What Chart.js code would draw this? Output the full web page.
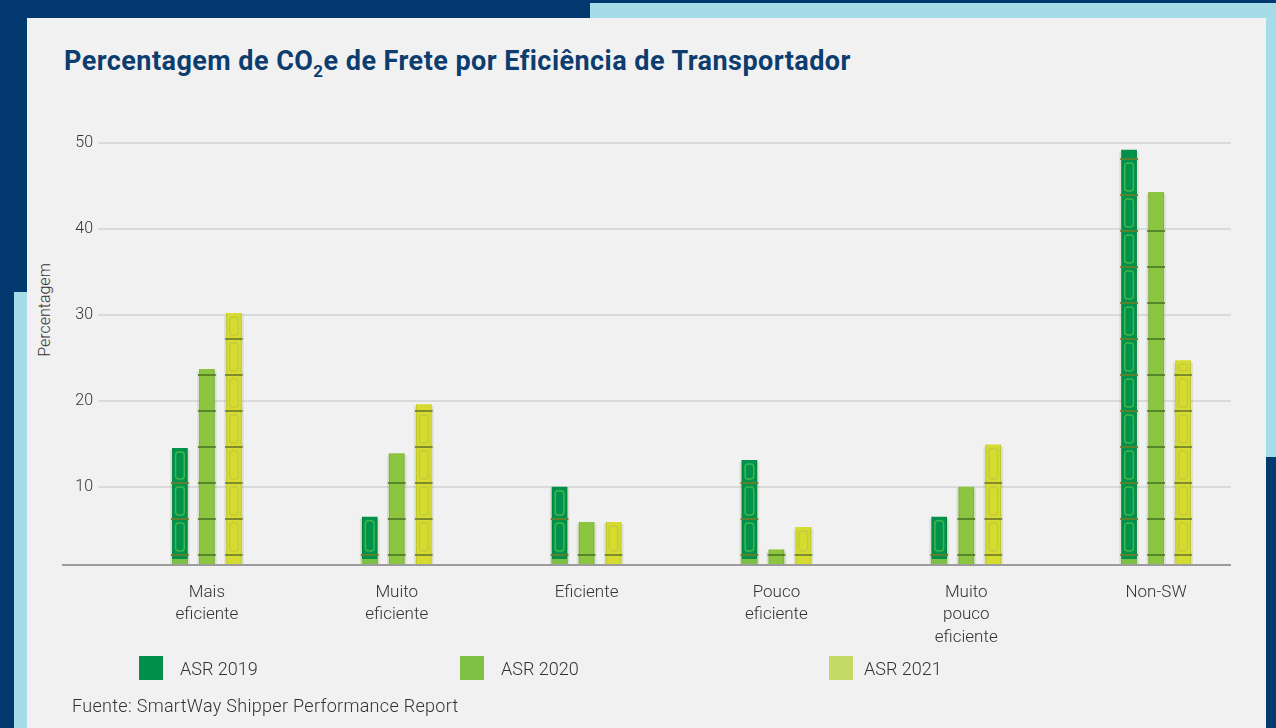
<!DOCTYPE html>
<html>
<head>
<meta charset="utf-8">
<script src="https://cdn.jsdelivr.net/npm/chart.js@4.4.1/dist/chart.umd.min.js"></script>
<style>
  html, body { margin: 0; padding: 0; }
  body {
    width: 1276px; height: 728px; position: relative; overflow: hidden;
    background: #023a6f; font-family: Roboto, "Noto Sans", sans-serif;
  }
  .strip-top { position: absolute; left: 590px; top: 3px; width: 686px; height: 15px; background: #a6dce8; }
  .strip-right { position: absolute; left: 1266px; top: 3px; width: 10px; height: 454px; background: #a6dce8; }
  .strip-left { position: absolute; left: 14px; top: 292px; width: 13px; height: 436px; background: #a6dce8; }
  .panel { position: absolute; left: 27px; top: 18px; width: 1239px; height: 710px; background: #f1f1f1; }
  h1 {
    position: absolute; left: 64px; top: 45px; margin: 0;
    font-size: 27px; font-weight: 700; color: #0c3d6e; letter-spacing: 0.45px; white-space: nowrap;
  }
  h1 sub { font-size: 17px; vertical-align: -7px; line-height: 0; }
  .ytitle {
    position: absolute; left: 44px; top: 310px; transform: translate(-50%, -50%) rotate(-90deg);
    font-size: 16px; font-weight: 300; color: #333; white-space: nowrap;
  }
  #wrap { position: absolute; left: 0; top: 0; width: 1276px; height: 728px; }
  .legend span.box { position: absolute; top: 656px; width: 24px; height: 24px; }
  .legend span.txt { position: absolute; top: 657px; font-size: 18px; font-weight: 300; color: #333; line-height: 24px; }
  .source { position: absolute; left: 72px; top: 695px; font-size: 18px; font-weight: 300; color: #333; letter-spacing: 0.3px; }
</style>
</head>
<body>
<div class="strip-top"></div>
<div class="strip-right"></div>
<div class="strip-left"></div>
<div class="panel"></div>
<h1>Percentagem de CO<sub>2</sub>e de Frete por Eficiência de Transportador</h1>
<div class="ytitle">Percentagem</div>
<div id="wrap"><canvas id="chart"></canvas></div>
<div class="legend" id="legend"></div>
<div class="source">Fuente: SmartWay Shipper Performance Report</div>
<script>
// categories (multi-line labels)
const categories = [
  ['Mais', 'eficiente'],
  ['Muito', 'eficiente'],
  ['Eficiente'],
  ['Pouco', 'eficiente'],
  ['Muito', 'pouco', 'eficiente'],
  ['Non-SW']
];

// series values (percent)
const asr2019 = [14.5, 6.5, 10.0, 13.1, 6.5, 49.2];
const asr2020 = [23.7, 13.9, 5.9, 2.7, 10.0, 44.3];
const asr2021 = [30.2, 19.6, 5.9, 5.3, 14.9, 24.7];

const seriesNames = ['ASR 2019', 'ASR 2020', 'ASR 2021'];
const yTicks = [10, 20, 30, 40, 50];

// bar look: fill, inner outline, node colour
const barStyles = [
  { fill: '#00924a', inner: '#3fb54f', node: '#5e7f2b' },
  { fill: '#8cc540', inner: '#7fb83a', node: '#5a842b' },
  { fill: '#d5dc2f', inner: '#c3cc3a', node: '#7f8c2e' }
];
const legendColors = ['#00904b', '#80c145', '#c5d965'];
const legendPos = [[139, 180], [460, 501], [829, 864]];

// legend in html
const legendEl = document.getElementById('legend');
seriesNames.forEach((name, i) => {
  legendEl.innerHTML += '<span class="box" style="left:' + legendPos[i][0] + 'px;background:' + legendColors[i] + '"></span>' +
    '<span class="txt" style="left:' + legendPos[i][1] + 'px">' + name + '</span>';
});

// grid + baseline
const gridPlugin = {
  id: 'grid',
  beforeDatasetsDraw(chart) {
    const ctx = chart.ctx, a = chart.chartArea, y = chart.scales.y;
    ctx.save();
    ctx.strokeStyle = '#dadada';
    ctx.lineWidth = 2;
    yTicks.forEach(v => {
      const py = Math.round(y.getPixelForValue(v));
      ctx.beginPath();
      ctx.moveTo(a.left - 14, py);
      ctx.lineTo(a.right - 20, py);
      ctx.stroke();
    });
    ctx.restore();
  },
  afterDatasetsDraw(chart) {
    const ctx = chart.ctx, a = chart.chartArea;
    ctx.save();
    ctx.strokeStyle = '#9b9b9b';
    ctx.lineWidth = 2;
    ctx.beginPath();
    ctx.moveTo(a.left - 50, a.bottom + 1);
    ctx.lineTo(a.right - 20, a.bottom + 1);
    ctx.stroke();
    ctx.restore();
  }
};

// bamboo-ish segments on each bar
const bambooPlugin = {
  id: 'bamboo',
  beforeDatasetsDraw(chart) {
    // soft halo behind bars
    const ctx = chart.ctx, bottom = chart.chartArea.bottom;
    chart.data.datasets.forEach((ds, di) => {
      chart.getDatasetMeta(di).data.forEach(bar => {
        const { x, y, width } = bar.getProps(['x', 'y', 'width'], true);
        ctx.save();
        ctx.fillStyle = 'rgba(120,150,90,0.18)';
        ctx.fillRect(x - width / 2 - 2, y + 2, width + 4, bottom - y - 2);
        ctx.restore();
      });
    });
  },
  afterDatasetsDraw(chart) {
    const ctx = chart.ctx, bottom = chart.chartArea.bottom;
    chart.data.datasets.forEach((ds, di) => {
      const st = barStyles[di];
      chart.getDatasetMeta(di).data.forEach(bar => {
        const p = bar.getProps(['x', 'y', 'base', 'width'], true);
        const width = p.width, left = p.x - width / 2, top = p.y;
        const base = Math.min(p.base, bottom);
        ctx.save();
        ctx.beginPath();
        ctx.rect(left - 3, top, width + 6, base - top);
        ctx.clip();
        ctx.fillStyle = 'rgba(0,0,0,0.10)';
        ctx.fillRect(left, top, 1, base - top);
        ctx.fillRect(left + width - 1, top, 1, base - top);
        const nodes = [];
        for (let ny = base - 9; ny > top + 4; ny -= 36) nodes.push(ny);
        ctx.strokeStyle = st.inner;
        ctx.lineWidth = 1.5;
        let prev = base;
        nodes.concat([top]).forEach(ny => {
          const h = prev - ny;
          if (h > 10 && di !== 1) {
            ctx.beginPath();
            ctx.roundRect(left + 3.5, ny + 4, width - 7, h - 8, 3);
            ctx.stroke();
          }
          prev = ny;
        });
        ctx.strokeStyle = st.node;
        ctx.lineWidth = 2;
        nodes.forEach(ny => {
          ctx.beginPath();
          ctx.moveTo(left - 1, ny);
          ctx.lineTo(left + width + 1, ny);
          ctx.stroke();
        });
        if (di === 0) {
          ctx.fillStyle = '#7cc046';
          ctx.fillRect(left, base - 5, width, 5);
        }
        ctx.restore();
      });
    });
  }
};

const ctx = document.getElementById('chart').getContext('2d');
new Chart(ctx, {
  type: 'bar',
  data: {
    labels: categories,
    datasets: [asr2019, asr2020, asr2021].map((d, i) => ({
      label: seriesNames[i],
      data: d,
      backgroundColor: barStyles[i].fill,
      borderWidth: 0,
      categoryPercentage: 0.427,
      barPercentage: 0.58
    }))
  },
  options: {
    responsive: true,
    maintainAspectRatio: false,
    animation: false,
    layout: { padding: { left: 28, top: 143, right: 25, bottom: 74 } },
    plugins: {
      legend: { display: false },
      tooltip: { enabled: false }
    },
    scales: {
      x: {
        grid: { display: false, drawTicks: false },
        border: { display: false },
        ticks: {
          padding: 18,
          color: '#333',
          font: { family: 'Roboto', size: 17, weight: '300', lineHeight: 1.3 },
          maxRotation: 0,
          autoSkip: false
        },
        afterFit(scale) { scale.height = 90; }
      },
      y: {
        min: 1,
        max: 50,
        grid: { display: false, drawTicks: false },
        border: { display: false },
        afterBuildTicks(scale) {
          scale.ticks = yTicks.map(v => ({ value: v }));
        },
        ticks: {
          padding: 19,
          color: '#333',
          font: { family: 'Roboto', size: 16, weight: '300' }
        },
        afterFit(scale) { scale.width = 84; }
      }
    }
  },
  plugins: [gridPlugin, bambooPlugin]
});
</script>
</body>
</html>
